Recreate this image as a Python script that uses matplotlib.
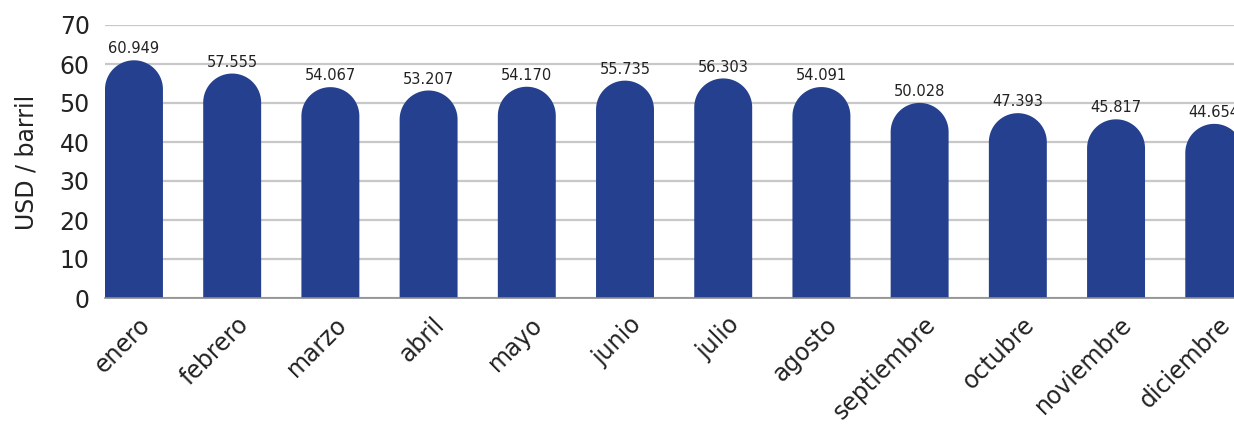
import matplotlib
matplotlib.use("Agg")
import matplotlib.pyplot as plt
import numpy as np
from matplotlib.patches import PathPatch
from matplotlib.path import Path
import matplotlib.transforms as mtransforms

months = ["enero", "febrero", "marzo", "abril", "mayo", "junio", "julio",
          "agosto", "septiembre", "octubre", "noviembre", "diciembre"]
values = [60.949, 57.555, 54.067, 53.207, 54.170, 55.735, 56.303,
          54.091, 50.028, 47.393, 45.817, 44.654]
labels = ["60.949", "57.555", "54.067", "53.207", "54.170", "55.735", "56.303",
          "54.091", "50.028", "47.393", "45.817", "44.654"]
yticks = [0, 10, 20, 30, 40, 50, 60, 70]

W, H, DPI = 1234, 424, 100
plt.rcParams['font.family'] = ['DejaVu Sans']
fig = plt.figure(figsize=(W / DPI, H / DPI), dpi=DPI)

ax_l, ax_r = 105, 1283
ax_top, ax_bot = 25, 298
ax = fig.add_axes([ax_l / W, 1 - ax_bot / H, (ax_r - ax_l) / W, (ax_bot - ax_top) / H])

bw = 0.59
xmin, xmax = -bw / 2, 11.7
ymin, ymax = 0, 70
ax.set_xlim(xmin, xmax)
ax.set_ylim(ymin, ymax)

pxx = (ax_r - ax_l) / (xmax - xmin)
pxy = (ax_bot - ax_top) / (ymax - ymin)
r_px = bw * pxx / 2
r_y = r_px / pxy

color = "#24408E"
xs = list(range(len(months)))
th = np.linspace(0, np.pi, 60)
for x, v, lab in zip(xs, values, labels):
    yc = v - r_y
    arc = np.column_stack([x + bw / 2 * np.cos(th), yc + r_y * np.sin(th)])
    verts = np.vstack([[x + bw / 2, 0], arc, [x - bw / 2, 0], [x + bw / 2, 0]])
    codes = [Path.MOVETO] + [Path.LINETO] * (len(verts) - 2) + [Path.CLOSEPOLY]
    ax.add_patch(PathPatch(Path(verts, codes), facecolor=color, edgecolor='none', zorder=3))
    ax.text(x, v + 1.0, lab, ha='center', va='bottom', fontsize=10.5,
            color='#222222', zorder=4)

ax.set_yticks(yticks)
ax.set_yticklabels([str(t) for t in yticks], fontsize=17, color='#222222')
ax.yaxis.grid(True, color='#c8c8c8', linewidth=1.6, zorder=0)
ax.set_axisbelow(True)
ax.tick_params(axis='y', length=0, pad=11)
ax.tick_params(axis='x', length=0, pad=4)
ax.set_xticks(xs)
ax.set_xticklabels(months, rotation=45, ha='right', va='top',
                   rotation_mode='anchor', fontsize=17, color='#222222')
for t in ax.get_xticklabels():
    t.set_transform(t.get_transform() + mtransforms.ScaledTranslation(4 / DPI, -9 / DPI, fig.dpi_scale_trans))

for s in ['top', 'right', 'left']:
    ax.spines[s].set_visible(False)
ax.spines['bottom'].set_color('#8c8c8c')
ax.spines['bottom'].set_linewidth(1.2)
ax.spines['bottom'].set_zorder(5)

fig.text(26 / W, 1 - 162 / H, "USD / barril", rotation=90, ha='center', va='center',
         fontsize=17, color='#222222')

fig.savefig("out.png", dpi=DPI)
